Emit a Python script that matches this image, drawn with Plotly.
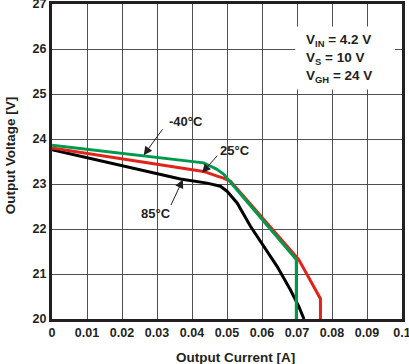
import plotly.graph_objects as go

# -40°C (green)
x_m40 = [0.0, 0.0433, 0.0452, 0.0470, 0.0490, 0.0510, 0.0698, 0.0698]
y_m40 = [23.86, 23.47, 23.40, 23.33, 23.22, 23.04, 21.32, 20.0]
# 25°C (red)
x_25 = [0.0, 0.0433, 0.0470, 0.0490, 0.0510, 0.0705, 0.0767, 0.0767]
y_25 = [23.80, 23.28, 23.18, 23.13, 23.06, 21.32, 20.45, 20.0]
# 85°C (black)
x_85 = [0.0, 0.0367, 0.0443, 0.0481, 0.0500, 0.0529, 0.0567, 0.0605, 0.0643, 0.0681, 0.0705, 0.0720]
y_85 = [23.76, 23.11, 23.02, 22.95, 22.84, 22.58, 22.06, 21.61, 21.17, 20.65, 20.28, 20.0]

x_ticks = [0, 0.01, 0.02, 0.03, 0.04, 0.05, 0.06, 0.07, 0.08, 0.09, 0.1]
x_tick_text = ["0", "0.01", "0.02", "0.03", "0.04", "0.05", "0.06", "0.07", "0.08", "0.09", "0.1"]
y_ticks = [20, 21, 22, 23, 24, 25, 26, 27]

FONT = "Liberation Sans, Arial, sans-serif"
BORDER = "#231f20"
TXT = "#231f20"

fig = go.Figure()
fig.add_trace(go.Scatter(x=x_85, y=y_85, mode="lines", line=dict(color="#000000", width=3), showlegend=False))
fig.add_trace(go.Scatter(x=x_25, y=y_25, mode="lines", line=dict(color="#e2231a", width=3), showlegend=False))
fig.add_trace(go.Scatter(x=x_m40, y=y_m40, mode="lines", line=dict(color="#00994c", width=3), showlegend=False))

tick_font = dict(size=12.5, weight="bold", family=FONT, color=TXT)
fig.update_layout(
    width=409, height=364,
    margin=dict(l=52, r=7, t=4, b=45),
    paper_bgcolor="white", plot_bgcolor="white",
    font=dict(family=FONT, color=TXT),
    xaxis=dict(
        range=[0, 0.1], tickvals=x_ticks, ticktext=x_tick_text,
        showgrid=True, gridcolor="#505050", gridwidth=1,
        showline=True, mirror=True, linecolor=BORDER, linewidth=3,
        zeroline=False, ticks="", automargin=False, ticklabeloverflow="allow",
        tickfont=tick_font,
    ),
    yaxis=dict(
        range=[20, 27], tickvals=y_ticks,
        showgrid=True, gridcolor="#505050", gridwidth=1,
        showline=True, mirror=True, linecolor=BORDER, linewidth=3,
        zeroline=False, ticks="", automargin=False, ticklabeloverflow="allow",
        tickfont=tick_font,
    ),
)

title_font = dict(size=13.5, weight="bold", family=FONT, color=TXT)
fig.add_annotation(x=0.523, y=-0.121, xref="paper", yref="paper", text="Output Current [A]",
                   showarrow=False, xanchor="center", yanchor="middle", font=title_font)
fig.add_annotation(x=-0.12, y=0.52, xref="paper", yref="paper", text="Output Voltage [V]",
                   showarrow=False, xanchor="center", yanchor="middle", textangle=-90, font=title_font)

# white box behind conditions text
fig.add_shape(type="rect", xref="x", yref="y", x0=0.0695, x1=0.098, y0=25.1, y1=26.5,
              fillcolor="white", line=dict(width=0), layer="between")

cond_font = dict(size=13.5, weight="bold", family=FONT, color=TXT)
for txt, yv in [("V<sub>IN</sub> = 4.2 V", 26.18), ("V<sub>S</sub> = 10 V", 25.8), ("V<sub>GH</sub> = 24 V", 25.4)]:
    fig.add_annotation(x=0.0719, y=yv, xref="x", yref="y", text=txt, showarrow=False,
                       xanchor="left", yanchor="middle", font=cond_font)

lab_font = dict(size=13, weight="bold", family=FONT, color=TXT)
labels = [("-40°C", 0.0383, 24.38), ("25°C", 0.0523, 23.74), ("85°C", 0.0297, 22.34)]
for t, xv, yv in labels:
    fig.add_annotation(x=xv, y=yv, xref="x", yref="y", text=t, showarrow=False, font=lab_font)

arrows = [
    (0.0262, 23.64, 0.0319, 24.25),
    (0.0429, 23.25, 0.0476, 23.66),
    (0.0374, 23.10, 0.0338, 22.50),
]
for hx, hy, tx, ty in arrows:
    fig.add_annotation(x=hx, y=hy, ax=tx, ay=ty, xref="x", yref="y", axref="x", ayref="y",
                       text="", showarrow=True, arrowhead=2, arrowsize=1.7, arrowwidth=1,
                       arrowcolor=TXT)

fig.write_html("out.html", config={"displayModeBar": False},
               post_script="document.body.style.margin='0';document.body.style.overflow='hidden';")
